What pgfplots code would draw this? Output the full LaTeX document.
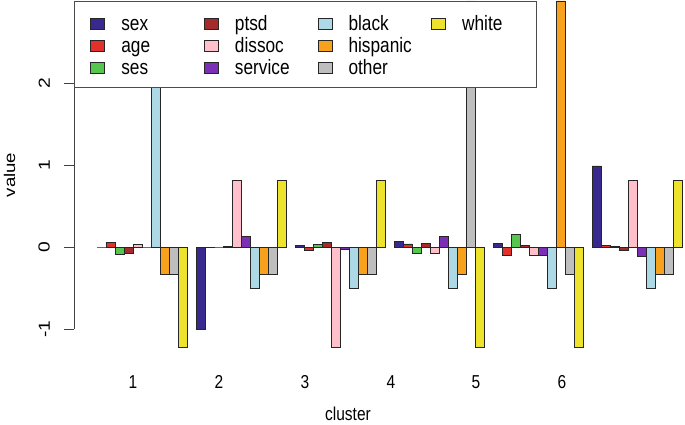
\documentclass[border=0pt]{standalone}
\usepackage{pgfplots}
\pgfplotsset{compat=1.18}
\usepackage{fontspec}
\setmainfont{Liberation Sans}
\newfontfamily\hfont{Liberation Sans}[FakeStretch=0.83]
\newfontfamily\vfont{Liberation Sans}[FakeStretch=1.2]
\definecolor{csex}{HTML}{38298F}
\definecolor{cage}{HTML}{E2302A}
\definecolor{cses}{HTML}{57C64E}
\definecolor{cptsd}{HTML}{A62A2A}
\definecolor{cdissoc}{HTML}{FFC0CB}
\definecolor{cservice}{HTML}{7B2FB5}
\definecolor{cblack}{HTML}{ADD8E6}
\definecolor{chisp}{HTML}{F7A11C}
\definecolor{cother}{HTML}{BEBEBE}
\definecolor{cwhite}{HTML}{EDE22C}
\begin{document}
\begin{tikzpicture}[x=1pt,y=1pt]
\useasboundingbox (0,0) rectangle (685,424);
\begin{axis}[
  at={(74pt,64pt)}, anchor=south west,
  scale only axis, width=611pt, height=360pt,
  xmin=74, xmax=685, ymin=-1.37805, ymax=3.01220,
  clip mode=individual,
  ybar=0pt, bar width=9pt,
  axis x line*=bottom, axis y line*=left,
  x axis line style={draw=none}, y axis line style={draw=none},
  xtick={133,219,305,391,476,562}, xticklabels={1,2,3,4,5,6},
  ytick={-1,0,1,2}, yticklabels={-1,0,1,2},
  ytick align=outside, xtick align=inside, major tick length=10pt,
  xtick style={draw=none},
  ytick style={draw=black!75, line width=0.9pt},
  xticklabel style={font=\hfont\fontsize{18.7}{22}\selectfont, anchor=base, yshift=-28pt},
  yticklabel style={font=\vfont\fontsize{16}{19}\selectfont, xshift=-14pt, rotate=90, anchor=south, inner sep=0pt},
  xlabel={cluster}, ylabel={value},
  xlabel style={font=\hfont\fontsize{18.7}{22}\selectfont, at={(axis description cs:0.4484,-0.169)}, anchor=base},
  ylabel style={font=\vfont\fontsize{15.5}{18}\selectfont, at={(axis description cs:-0.1056,0.5139)}, anchor=center},
  every axis plot/.append style={draw=black!85, line width=0.9pt},
  legend image code/.code={\draw[#1, draw=black!85, line width=0.9pt] (0pt,1pt) rectangle (14pt,12pt);},
  legend columns=4,
  legend style={at={(axis cs:74,3.0)}, anchor=north west, draw=black!70, line width=0.9pt, fill=white,
    inner xsep=16pt, inner ysep=11pt, font=\hfont\fontsize{20.8}{24}\selectfont,
    row sep=2pt,
    /tikz/every odd column/.append style={column sep=16pt},
    nodes={anchor=base west, text width=82.7pt, inner xsep=0pt, inner ysep=0pt, text height=18pt, text depth=2pt},
    /tikz/column 8/.style={nodes={text width=58pt}}},
]
\addplot[forget plot, bar shift=-40.5pt, fill=csex] coordinates {(142,0) (241,-1.01) (340,0.024) (439,0.07) (538,0.044) (637,0.988)};
\addplot[forget plot, bar shift=-31.5pt, fill=cage] coordinates {(142,0.06) (241,-0.005) (340,-0.037) (439,0.037) (538,-0.106) (637,0.02)};
\addplot[forget plot, bar shift=-22.5pt, fill=cses] coordinates {(142,-0.09) (241,0) (340,0.028) (439,-0.077) (538,0.154) (637,0.012)};
\addplot[forget plot, bar shift=-13.5pt, fill=cptsd] coordinates {(142,-0.075) (241,0.005) (340,0.057) (439,0.04) (538,0.016) (637,-0.037)};
\addplot[forget plot, bar shift=-4.5pt, fill=cdissoc] coordinates {(142,0.03) (241,0.817) (340,-1.224) (439,-0.08) (538,-0.098) (637,0.817)};
\addplot[forget plot, bar shift=4.5pt, fill=cservice] coordinates {(142,0) (241,0.126) (340,-0.03) (439,0.126) (538,-0.106) (637,-0.118)};
\addplot[forget plot, bar shift=13.5pt, fill=cblack] coordinates {(142,1.984) (241,-0.504) (340,-0.504) (439,-0.504) (538,-0.504) (637,-0.504)};
\addplot[forget plot, bar shift=22.5pt, fill=chisp] coordinates {(142,-0.333) (241,-0.333) (340,-0.333) (439,-0.333) (538,3.0) (637,-0.333)};
\addplot[forget plot, bar shift=31.5pt, fill=cother] coordinates {(142,-0.333) (241,-0.333) (340,-0.333) (439,3.0) (538,-0.333) (637,-0.333)};
\addplot[forget plot, bar shift=40.5pt, fill=cwhite] coordinates {(142,-1.228) (241,0.81) (340,0.81) (439,-1.228) (538,-1.228) (637,0.81)};
\addlegendimage{fill=csex}\addlegendentry{sex}
\addlegendimage{fill=cptsd}\addlegendentry{ptsd}
\addlegendimage{fill=cblack}\addlegendentry{black}
\addlegendimage{fill=cwhite}\addlegendentry{white}
\addlegendimage{fill=cage}\addlegendentry{age}
\addlegendimage{fill=cdissoc}\addlegendentry{dissoc}
\addlegendimage{fill=chisp}\addlegendentry{hispanic}
\addlegendimage{empty legend}\addlegendentry{}
\addlegendimage{fill=cses}\addlegendentry{ses}
\addlegendimage{fill=cservice}\addlegendentry{service}
\addlegendimage{fill=cother}\addlegendentry{other}
\draw[black!75, line width=0.9pt] (axis cs:74,-1) -- (axis cs:74,2);
\end{axis}
\end{tikzpicture}
\end{document}
